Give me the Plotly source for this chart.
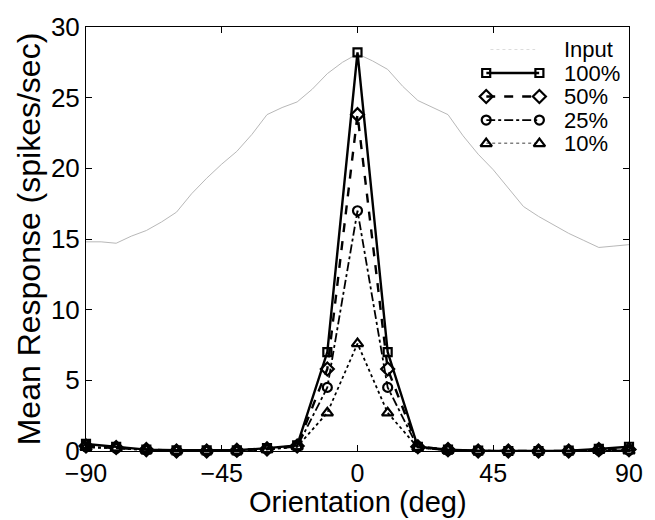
import plotly.graph_objects as go

# ---- data ----
orient = [-90, -80, -70, -60, -50, -40, -30, -20, -10, 0, 10, 20, 30, 40, 50, 60, 70, 80, 90]
resp_100 = [0.5, 0.3, 0.1, 0.05, 0.05, 0.05, 0.2, 0.4, 7.0, 28.2, 7.0, 0.3, 0.1, 0.02, 0.0, 0.0, 0.02, 0.15, 0.3]
resp_50 = [0.35, 0.25, 0.1, 0.0, 0.0, 0.05, 0.15, 0.35, 5.8, 23.8, 5.8, 0.3, 0.1, 0.0, 0.0, 0.0, 0.0, 0.1, 0.1]
resp_25 = [0.3, 0.2, 0.1, 0.0, 0.0, 0.0, 0.15, 0.3, 4.5, 17.0, 4.5, 0.25, 0.05, 0.0, 0.0, 0.0, 0.0, 0.05, 0.05]
resp_10 = [0.25, 0.2, 0.05, 0.0, 0.0, 0.0, 0.1, 0.3, 2.7, 7.6, 2.7, 0.25, 0.05, 0.0, 0.0, 0.0, 0.0, 0.05, 0.0]

input_orient = [-90, -85, -80, -75, -70, -65, -60, -55, -50, -45, -40, -35, -30, -25, -20, -15, -10, -5, 0,
                5, 10, 15, 20, 25, 30, 35, 40, 45, 50, 55, 60, 65, 70, 75, 80, 85, 90]
input_resp = [14.8, 14.8, 14.7, 15.2, 15.6, 16.2, 16.9, 18.2, 19.3, 20.3, 21.2, 22.4, 23.8, 24.3, 24.7, 25.6, 26.7, 27.5, 28.1,
              27.6, 27.0, 25.8, 24.8, 24.3, 23.8, 22.3, 21.0, 19.9, 18.6, 17.3, 16.6, 16.0, 15.4, 14.9, 14.4, 14.5, 14.6]

x_ticks = [-90, -45, 0, 45, 90]
y_ticks = [0, 5, 10, 15, 20, 25, 30]

legend_names = ["Input", "100%", "50%", "25%", "10%"]

FONT = "Liberation Sans, Arial, Helvetica, sans-serif"
GRAY = "#b8b8b8"

styles = {
    "100%": dict(dash="solid", symbol="square-open", size=8, width=2.4),
    "50%": dict(dash="dash", symbol="diamond-open", size=10, width=2.4),
    "25%": dict(dash="dashdot", symbol="circle-open", size=9, width=1.8),
    "10%": dict(dash="dot", symbol="triangle-up-open", size=10, width=1.8),
}
series = {"100%": resp_100, "50%": resp_50, "25%": resp_25, "10%": resp_10}

fig = go.Figure()

fig.add_trace(go.Scatter(x=input_orient, y=input_resp, mode="lines",
                         line=dict(color=GRAY, width=1), showlegend=False,
                         cliponaxis=False))

for name in ["100%", "50%", "25%", "10%"]:
    st = styles[name]
    fig.add_trace(go.Scatter(
        x=orient, y=series[name], mode="lines+markers", showlegend=False,
        line=dict(color="black", width=st["width"], dash=st["dash"]),
        marker=dict(symbol=st["symbol"], size=st["size"], color="black",
                    line=dict(color="black", width=2.2)),
        cliponaxis=False))

# ---- custom legend (inset axes) ----
for i, name in enumerate(legend_names):
    if name == "Input":
        fig.add_trace(go.Scatter(x=[0.08, 0.92], y=[i, i], mode="lines", xaxis="x2", yaxis="y2",
                                 line=dict(color=GRAY, width=1, dash="dot"), showlegend=False,
                                 cliponaxis=False))
    else:
        st = styles[name]
        fig.add_trace(go.Scatter(x=[0, 1], y=[i, i], mode="lines+markers", xaxis="x2", yaxis="y2",
                                 line=dict(color="black", width=st["width"], dash=st["dash"]),
                                 marker=dict(symbol=st["symbol"], size=st["size"], color="black",
                                             line=dict(color="black", width=2.2)),
                                 showlegend=False, cliponaxis=False))
    fig.add_annotation(x=0.877, xref="paper", y=i, yref="y2", text=name, showarrow=False,
                       xanchor="left", yanchor="middle", font=dict(family=FONT, size=22, color="black"))

# x-axis title as annotation for precise placement
fig.add_annotation(x=0.5, xref="paper", y=-0.12, yref="paper", text="Orientation (deg)",
                   showarrow=False, xanchor="center", yanchor="middle",
                   font=dict(family=FONT, size=29, color="black"))

fig.update_layout(
    width=655, height=520,
    margin=dict(l=86, r=25, t=19, b=69),
    paper_bgcolor="white", plot_bgcolor="white",
    font=dict(family=FONT, color="black"),
    xaxis=dict(range=[-90, 90], tickvals=x_ticks, ticktext=[("\u2212" + str(-v)) if v < 0 else str(v) for v in x_ticks],
               ticks="inside", ticklen=6, tickcolor="black", showline=True, linecolor="black", linewidth=1,
               mirror="ticks", showgrid=False, zeroline=False,
               tickfont=dict(family=FONT, size=25, color="black")),
    yaxis=dict(range=[0, 30], tickvals=y_ticks, ticks="inside", ticklen=6, tickcolor="black",
               showline=True, linecolor="black", linewidth=1, mirror="ticks", showgrid=False, zeroline=False,
               tickfont=dict(family=FONT, size=26, color="black"),
               title=dict(text="Mean Response (spikes/sec)", font=dict(family=FONT, size=32, color="black"), standoff=0)),
    xaxis2=dict(domain=[0.737, 0.835], range=[0, 1], anchor="y2", visible=False, fixedrange=True),
    yaxis2=dict(domain=[0.725, 0.947], range=[4, 0], anchor="x2", visible=False, fixedrange=True),
)

fig.write_html("out.html")
